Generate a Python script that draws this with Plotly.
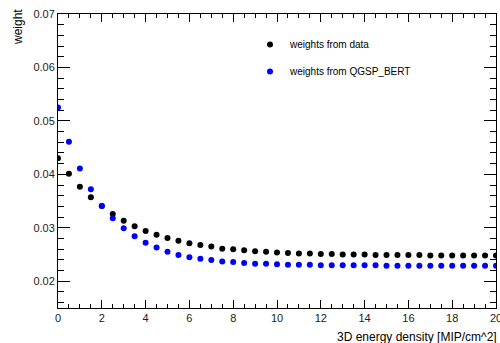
import plotly.graph_objects as go

x_vals = [i * 0.5 for i in range(41)]
w_data = [0.0430, 0.0401, 0.0377, 0.0357, 0.0341, 0.0326, 0.0313, 0.0303, 0.0294, 0.0287,
          0.0281, 0.0276, 0.0271, 0.0268, 0.0265, 0.0261, 0.0260, 0.0258, 0.0256, 0.0255,
          0.0254, 0.0253, 0.0252, 0.0252, 0.0251, 0.0251, 0.0250, 0.0250, 0.0250, 0.0249,
          0.0249, 0.0249, 0.0249, 0.0249, 0.0248, 0.0248, 0.0248, 0.0248, 0.0248, 0.0248, 0.0248]
w_qgsp = [0.0525, 0.0461, 0.0411, 0.0372, 0.0341, 0.0318, 0.0299, 0.0284, 0.0272, 0.0263,
          0.0255, 0.0249, 0.0245, 0.0242, 0.0240, 0.0237, 0.0236, 0.0234, 0.0233, 0.0233,
          0.0232, 0.0231, 0.0231, 0.0231, 0.0230, 0.0230, 0.0230, 0.0230, 0.0230, 0.0230,
          0.0229, 0.0229, 0.0229, 0.0229, 0.0229, 0.0229, 0.0229, 0.0229, 0.0229, 0.0229, 0.0229]

W, H = 500, 343
L, R, T, B = 58, 4, 14, 35
pw = W - L - R
ph = H - T - B

fig = go.Figure()
fig.add_trace(go.Scatter(x=x_vals, y=w_data, mode="markers", name="weights from data",
                         legendgroup="a",
                         marker=dict(color="black", size=6)))
fig.add_trace(go.Scatter(x=x_vals, y=w_qgsp, mode="markers", name="weights from QGSP_BERT",
                         legendgroup="b",
                         marker=dict(color="#0000ff", size=6)))

axis_common = dict(showgrid=False, zeroline=False, showline=True, linecolor="black",
                   linewidth=1, mirror="allticks", ticks="inside", tickcolor="black",
                   ticklabeloverflow="allow", automargin=False,
                   tickfont=dict(family="Liberation Sans, Arial", size=11, color="#222"))

fig.update_xaxes(range=[0, 20], dtick=2, tick0=0, ticklen=8,
                 minor=dict(dtick=0.5, ticklen=4, ticks="inside", tickcolor="black"),
                 **axis_common)
fig.update_yaxes(range=[0.015, 0.07], dtick=0.01, tick0=0, ticklen=12,
                 tickformat=".2f",
                 minor=dict(dtick=0.002, ticklen=6, ticks="inside", tickcolor="black"),
                 **axis_common)

fig.add_annotation(text="weight", xref="paper", yref="paper",
                   x=(9 - L) / pw, y=1 + (T - 7) / ph, xanchor="left", yanchor="top",
                   textangle=-90, showarrow=False,
                   font=dict(family="Liberation Sans, Arial", size=12, color="black"))
fig.add_annotation(text="3D energy density [MIP/cm^2]", xref="paper", yref="paper",
                   x=(499 - L) / pw, y=-(337 - T - ph) / ph, xanchor="right", yanchor="middle",
                   showarrow=False,
                   font=dict(family="Liberation Sans, Arial", size=12, color="black"))

fig.update_layout(
    width=W, height=H,
    margin=dict(l=L, r=R, t=T, b=B, autoexpand=False),
    paper_bgcolor="white", plot_bgcolor="white",
    showlegend=True,
    legend=dict(x=(250 - L) / pw, y=1 - (30 - T) / ph, xanchor="left", yanchor="top",
                bgcolor="rgba(0,0,0,0)", tracegroupgap=8,
                font=dict(family="Liberation Sans, Arial", size=10, color="black")),
)

fig.write_html("out.html")
